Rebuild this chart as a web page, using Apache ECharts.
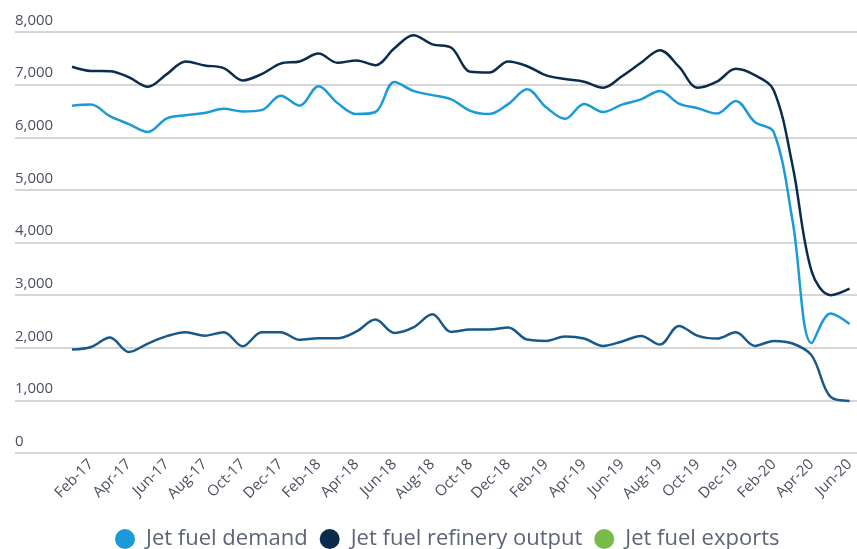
<!DOCTYPE html>
<html>
<head>
<meta charset="utf-8">
<script src="https://cdn.jsdelivr.net/npm/echarts@6/dist/echarts.min.js"></script>
<style>
html,body{margin:0;padding:0;background:#fff;}
#chart{width:857px;height:549px;}
</style>
</head>
<body>
<div id="chart"></div>
<script>
var months = ['Jan-17','Feb-17','Mar-17','Apr-17','May-17','Jun-17','Jul-17','Aug-17','Sep-17','Oct-17','Nov-17','Dec-17',
  'Jan-18','Feb-18','Mar-18','Apr-18','May-18','Jun-18','Jul-18','Aug-18','Sep-18','Oct-18','Nov-18','Dec-18',
  'Jan-19','Feb-19','Mar-19','Apr-19','May-19','Jun-19','Jul-19','Aug-19','Sep-19','Oct-19','Nov-19','Dec-19',
  'Jan-20','Feb-20','Mar-20','Apr-20','May-20','Jun-20'];
var jetFuelDemand = [6600,6620,6400,6250,6100,6360,6420,6460,6540,6490,6515,6790,6600,6970,6650,6440,6480,7050,6880,6800,6720,6500,6440,6630,6910,6570,6350,6630,6480,6620,6720,6880,6640,6550,6450,6690,6290,6100,4400,2090,2650,2450];
var jetFuelRefineryOutput = [7340,7260,7255,7140,6960,7200,7440,7365,7315,7080,7200,7400,7440,7590,7415,7460,7370,7690,7940,7765,7700,7245,7230,7440,7350,7175,7105,7055,6940,7160,7415,7655,7340,6940,7055,7300,7180,6895,5450,3450,3000,3125];
var jetFuelExports = [1965,2015,2195,1920,2080,2220,2295,2230,2295,2030,2295,2295,2150,2180,2180,2310,2535,2280,2385,2635,2300,2345,2345,2385,2155,2130,2215,2175,2035,2120,2225,2060,2415,2225,2175,2295,2035,2130,2080,1855,1065,990];
var yMin = 0, yMax = 8000, yStep = 1000;

var FONT = '"Open Sans", Lato, sans-serif';
var chart = echarts.init(document.getElementById('chart'), null, {renderer:'canvas'});
var gTop = 32, gBottom = 96;
chart.setOption({
  animation: false,
  backgroundColor: '#ffffff',
  grid: [
    {left: 15, right: 0, top: gTop, bottom: gBottom, containLabel: false},
    {left: 72, right: 1, top: gTop, bottom: gBottom, containLabel: false}
  ],
  legend: {
    left: 110, top: 523,
    itemWidth: 24, itemHeight: 20, itemGap: 12,
    icon: 'circle',
    textStyle: {fontFamily: FONT, fontSize: 22, color: '#5b6478', padding: [0,0,0,4]},
    data: [
      {name: 'Jet fuel demand', itemStyle: {color: '#1a9ad6'}},
      {name: 'Jet fuel refinery output', itemStyle: {color: '#0b2c4d'}},
      {name: 'Jet fuel exports', itemStyle: {color: '#77bc4b'}}
    ]
  },
  xAxis: [
    {gridIndex: 0, type: 'value', min: 0, max: 1, show: false},
    {gridIndex: 1, type: 'category', data: months, boundaryGap: false,
      axisLine: {show: false}, axisTick: {show: false}, splitLine: {show: false},
      axisLabel: {
        rotate: 45, margin: 9, fontFamily: FONT, fontSize: 15, color: '#4a5060',
        interval: function (i) { return i % 2 === 1; }
      }
    }
  ],
  yAxis: [
    {gridIndex: 0, type: 'value', min: yMin, max: yMax, interval: yStep,
      axisLine: {show: false}, axisTick: {show: false},
      splitLine: {show: true, lineStyle: {color: '#d6d6d6', width: 2}},
      axisLabel: {
        inside: true, margin: 0, align: 'left', verticalAlign: 'bottom',
        padding: [0,0,4,0],
        fontFamily: FONT, fontSize: 15, color: '#4a5060',
        formatter: function (v) { return v.toLocaleString('en-US'); }
      }
    },
    {gridIndex: 1, type: 'value', min: yMin, max: yMax, interval: yStep, show: false,
      splitLine: {show: false}}
  ],
  series: [
    {name: 'Jet fuel demand', type: 'line', xAxisIndex: 1, yAxisIndex: 1, data: jetFuelDemand,
      smooth: 0.35, showSymbol: false, lineStyle: {color: '#1a9ad6', width: 2.5}, itemStyle: {color: '#1a9ad6'}},
    {name: 'Jet fuel refinery output', type: 'line', xAxisIndex: 1, yAxisIndex: 1, data: jetFuelRefineryOutput,
      smooth: 0.35, showSymbol: false, lineStyle: {color: '#0b2c4d', width: 2.5}, itemStyle: {color: '#0b2c4d'}},
    {name: 'Jet fuel exports', type: 'line', xAxisIndex: 1, yAxisIndex: 1, data: jetFuelExports,
      smooth: 0.35, showSymbol: false, lineStyle: {color: '#17598c', width: 2.5}, itemStyle: {color: '#17598c'}}
  ]
});
</script>
</body>
</html>
